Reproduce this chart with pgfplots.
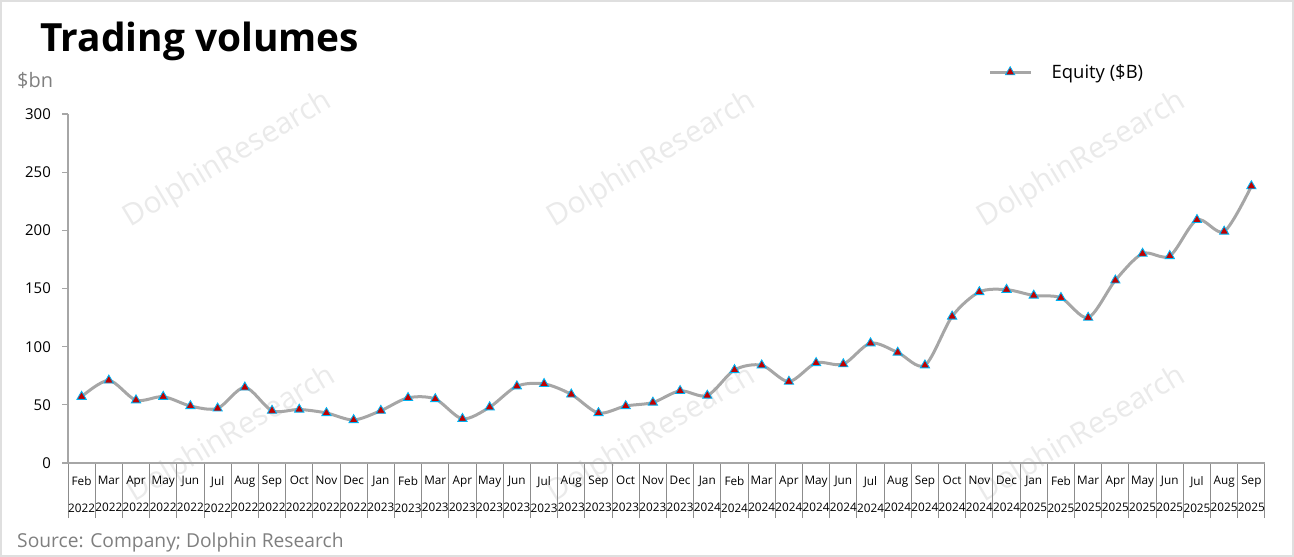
\documentclass[border=0pt]{standalone}
\usepackage{pgfplots}
\pgfplotsset{compat=1.18}
\usepackage{fontspec}
\setmainfont{Open Sans}
\definecolor{axgray}{HTML}{A6A6A6}
\definecolor{sepgray}{HTML}{8C8C8C}
\definecolor{linegray}{HTML}{A6A6A6}
\definecolor{mkred}{HTML}{C00000}
\definecolor{mkblue}{HTML}{00B0F0}
\definecolor{txtgray}{HTML}{7F7F7F}
\definecolor{wm}{HTML}{EAEAEA}
\begin{document}
\begin{tikzpicture}[x=1bp,y=1bp]
\useasboundingbox (0,0) rectangle (1294,557);
\draw[gray!25, line width=2bp] (1,1) rectangle (1293,556);
\foreach \cx/\cy in {228/397, 652/397, 1082/397, 232/122, 652/122, 1082/122}
  \node[rotate=31, text=wm, font=\fontsize{30}{32}\selectfont] at (\cx,\cy) {DolphinResearch};
\node[anchor=base west, inner sep=0pt, font=\bfseries\fontsize{39}{44}\selectfont] at (40,505) {Trading volumes};
\node[anchor=base west, inner sep=0pt, text=txtgray, font=\fontsize{20}{22}\selectfont] at (17,469) {\$bn};
\node[anchor=base west, inner sep=0pt, text=txtgray, font=\fontsize{19.3}{22}\selectfont] at (17,9) {Source: Company; Dolphin Research};
\begin{axis}[
  at={(68bp,94bp)}, anchor=south west, scale only axis,
  width=1197bp, height=349bp,
  xmin=-0.5, xmax=43.5, ymin=0, ymax=300,
  ytick={0,50,...,300},
  xtick={0,...,43},
  minor xtick={-0.5,0.5,...,43.5},
  xticklabels={Feb\\2022,Mar\\2022,Apr\\2022,May\\2022,Jun\\2022,Jul\\2022,Aug\\2022,Sep\\2022,Oct\\2022,Nov\\2022,Dec\\2022,
    Jan\\2023,Feb\\2023,Mar\\2023,Apr\\2023,May\\2023,Jun\\2023,Jul\\2023,Aug\\2023,Sep\\2023,Oct\\2023,Nov\\2023,Dec\\2023,
    Jan\\2024,Feb\\2024,Mar\\2024,Apr\\2024,May\\2024,Jun\\2024,Jul\\2024,Aug\\2024,Sep\\2024,Oct\\2024,Nov\\2024,Dec\\2024,
    Jan\\2025,Feb\\2025,Mar\\2025,Apr\\2025,May\\2025,Jun\\2025,Jul\\2025,Aug\\2025,Sep\\2025},
  axis x line*=bottom, axis y line*=left,
  axis line style={axgray, line width=1.2bp},
  tick align=outside,
  major tick length=6bp, minor tick length=55bp,
  major x tick style={draw=none},
  minor x tick style={sepgray, line width=1bp},
  y tick style={axgray, line width=1.2bp},
  /pgf/number format/assume math mode=true,
  yticklabel style={font=\fontsize{15}{18}\selectfont, inner sep=0pt, xshift=-11bp},
  xticklabel style={font=\fontsize{11.8}{27}\selectfont, align=center, inner sep=0pt, yshift=-7bp},
  legend style={at={(0.7665,1.12)}, anchor=west, draw=none, fill=none,
    font=\fontsize{18.5}{20}\selectfont, legend cell align=left,
    nodes={inner xsep=3bp},
    /tikz/every odd column/.append style={column sep=17bp}},
  legend image code/.code={\draw[#1, mark repeat=2, mark phase=2] plot coordinates {(0bp,0bp) (20bp,0bp) (40bp,0bp)};},
]
\addplot[linegray, line width=3bp, smooth, tension=0.5,
  mark=triangle*, mark size=5.3bp,
  mark options={fill=mkred, draw=mkblue, line width=0.9bp, solid}]
coordinates {
(0,57)(1,71)(2,54)(3,57)(4,49)(5,47)(6,65)(7,45)(8,46)(9,43)(10,37)
(11,45)(12,56)(13,55)(14,38)(15,48)(16,66)(17,68)(18,59)(19,43)(20,49)(21,52)(22,62)
(23,58)(24,80)(25,84)(26,70)(27,86)(28,85)(29,103)(30,95)(31,84)(32,126)(33,147)(34,149)
(35,144)(36,142)(37,125)(38,157)(39,180)(40,178)(41,209)(42,199)(43,238)
};
\addlegendentry{Equity (\$B)}
\end{axis}
\end{tikzpicture}
\end{document}
